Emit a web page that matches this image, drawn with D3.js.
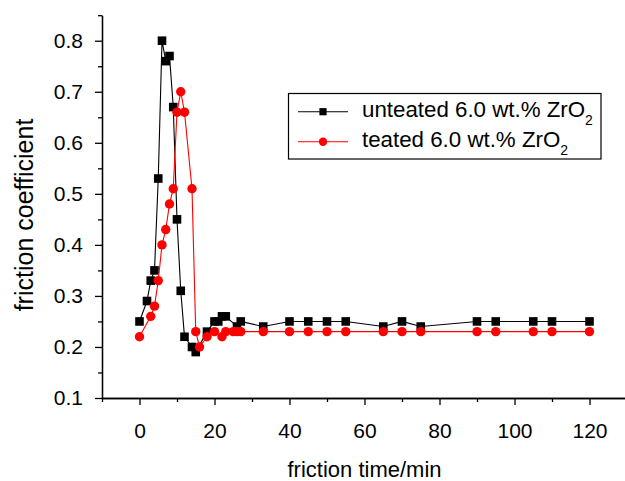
<!DOCTYPE html>
<html>
<head>
<meta charset="utf-8">
<script src="https://cdnjs.cloudflare.com/ajax/libs/d3/7.8.5/d3.min.js"></script>
<style>
  body { margin: 0; background: #fff; }
  svg { display: block; font-family: "Liberation Sans", Arial, sans-serif; }
</style>
</head>
<body>
<div class="content-container"></div>
<script>
// unteated 6.0 wt.% ZrO2 (black squares)
const untreatedTime = [0, 2, 3, 4, 5, 6, 7, 8, 9, 10, 11, 12, 14, 15, 18, 20, 21, 22, 23, 26, 27, 33, 40, 45, 50, 55, 65, 70, 75, 90, 95, 105, 110, 120];
const untreatedFriction = [0.25, 0.29, 0.33, 0.35, 0.53, 0.80, 0.76, 0.77, 0.67, 0.45, 0.31, 0.22, 0.20, 0.19, 0.23, 0.25, 0.25, 0.26, 0.26, 0.24, 0.25, 0.24, 0.25, 0.25, 0.25, 0.25, 0.24, 0.25, 0.24, 0.25, 0.25, 0.25, 0.25, 0.25];

// teated 6.0 wt.% ZrO2 (red circles)
const treatedTime = [0, 3, 4, 5, 6, 7, 8, 9, 10, 11, 12, 14, 15, 16, 18, 20, 22, 23, 25, 26, 27, 33, 40, 45, 50, 55, 65, 70, 75, 90, 95, 105, 110, 120];
const treatedFriction = [0.22, 0.26, 0.28, 0.33, 0.40, 0.43, 0.48, 0.51, 0.66, 0.70, 0.66, 0.51, 0.23, 0.20, 0.22, 0.23, 0.22, 0.23, 0.23, 0.23, 0.23, 0.23, 0.23, 0.23, 0.23, 0.23, 0.23, 0.23, 0.23, 0.23, 0.23, 0.23, 0.23, 0.23];

const xMajor = [0, 20, 40, 60, 80, 100, 120];
const xMinor = [-10, 10, 30, 50, 70, 90, 110, 130];
const yMajor = [0.1, 0.2, 0.3, 0.4, 0.5, 0.6, 0.7, 0.8];
const yMinor = [0.15, 0.25, 0.35, 0.45, 0.55, 0.65, 0.75, 0.85];

const width = 625;
const height = 481;

const xScale = d3.scaleLinear().domain([-10, 130]).range([102, 627]);
const yScale = d3.scaleLinear().domain([0.1, 0.85]).range([398, 15.2]);

const chart = d3.select(".content-container")
  .append("svg")
  .attr("width", width)
  .attr("height", height);

// AXES
const xAxis = d3.axisBottom(xScale).tickValues(xMajor).tickSize(7).tickSizeOuter(0)
  .tickPadding(18.5).tickFormat(d3.format("d"));
const xAxisMinor = d3.axisBottom(xScale).tickValues(xMinor).tickSize(4).tickSizeOuter(0).tickFormat("");

const yAxis = d3.axisLeft(yScale).tickValues(yMajor).tickSize(7).tickSizeOuter(0)
  .tickPadding(12).tickFormat(d3.format(".1f"));
const yAxisMinor = d3.axisLeft(yScale).tickValues(yMinor).tickSize(4).tickSizeOuter(0).tickFormat("");

function styleAxis(g) {
  g.selectAll("path, line").attr("stroke", "#000").attr("stroke-width", 1.3);
  g.selectAll("text").attr("fill", "#000").style("font-size", "21px")
    .style("font-family", "'Liberation Sans', Arial, sans-serif");
}

chart.append("g").attr("transform", "translate(0,398)").call(xAxisMinor).call(styleAxis);
chart.append("g").attr("transform", "translate(0,398)").call(xAxis).call(styleAxis);
chart.append("g").attr("transform", "translate(102,0)").call(yAxisMinor).call(styleAxis);
chart.append("g").attr("transform", "translate(102,0)").call(yAxis).call(styleAxis);

// axis titles
chart.append("text")
  .attr("x", 364.5)
  .attr("y", 476.5)
  .attr("text-anchor", "middle")
  .style("font-size", "22px")
  .text("friction time/min");

chart.append("text")
  .attr("transform", "translate(33,215) rotate(-90)")
  .attr("text-anchor", "middle")
  .style("font-size", "25px")
  .text("friction coefficient");

// SERIES
const line = d3.line()
  .x((d) => xScale(d[0]))
  .y((d) => yScale(d[1]));

const untreated = untreatedTime.map((t, i) => [t, untreatedFriction[i]]);
const treated = treatedTime.map((t, i) => [t, treatedFriction[i]]);

chart.append("path")
  .datum(untreated)
  .attr("d", line)
  .attr("fill", "none")
  .attr("stroke", "#000")
  .attr("stroke-width", 1.1);

const sq = 8.6;
chart.selectAll("rect.untreated")
  .data(untreated)
  .enter()
  .append("rect")
  .attr("class", "untreated")
  .attr("x", (d) => xScale(d[0]) - sq / 2)
  .attr("y", (d) => yScale(d[1]) - sq / 2)
  .attr("width", sq)
  .attr("height", sq)
  .attr("fill", "#000");

chart.append("path")
  .datum(treated)
  .attr("d", line)
  .attr("fill", "none")
  .attr("stroke", "#ff0000")
  .attr("stroke-width", 1.1);

chart.selectAll("circle.treated")
  .data(treated)
  .enter()
  .append("circle")
  .attr("class", "treated")
  .attr("cx", (d) => xScale(d[0]))
  .attr("cy", (d) => yScale(d[1]))
  .attr("r", 4.7)
  .attr("fill", "#ff0000");

// LEGEND
chart.append("rect")
  .attr("x", 288.5)
  .attr("y", 93.5)
  .attr("width", 312.5)
  .attr("height", 65.5)
  .attr("fill", "#fff")
  .attr("stroke", "#000")
  .attr("stroke-width", 1.2);

const legendItems = [
  { label: "unteated 6.0 wt.% ZrO", color: "#000", shape: "square", y: 111.7 },
  { label: "teated 6.0 wt.% ZrO", color: "#ff0000", shape: "circle", y: 141.7 }
];

legendItems.forEach(function (item) {
  chart.append("line")
    .attr("x1", 298).attr("x2", 348)
    .attr("y1", item.y).attr("y2", item.y)
    .attr("stroke", item.color)
    .attr("stroke-width", 1.1);

  if (item.shape === "square") {
    chart.append("rect")
      .attr("x", 323 - 3.6).attr("y", item.y - 3.6)
      .attr("width", 7.2).attr("height", 7.2)
      .attr("fill", item.color);
  } else {
    chart.append("circle")
      .attr("cx", 323).attr("cy", item.y)
      .attr("r", 4.2)
      .attr("fill", item.color);
  }

  const label = chart.append("text")
    .attr("x", 362)
    .attr("y", item.y + 5)
    .style("font-size", "22.3px")
    .text(item.label);
  label.append("tspan")
    .attr("dy", 8)
    .style("font-size", "14px")
    .text("2");
});
</script>
</body>
</html>
